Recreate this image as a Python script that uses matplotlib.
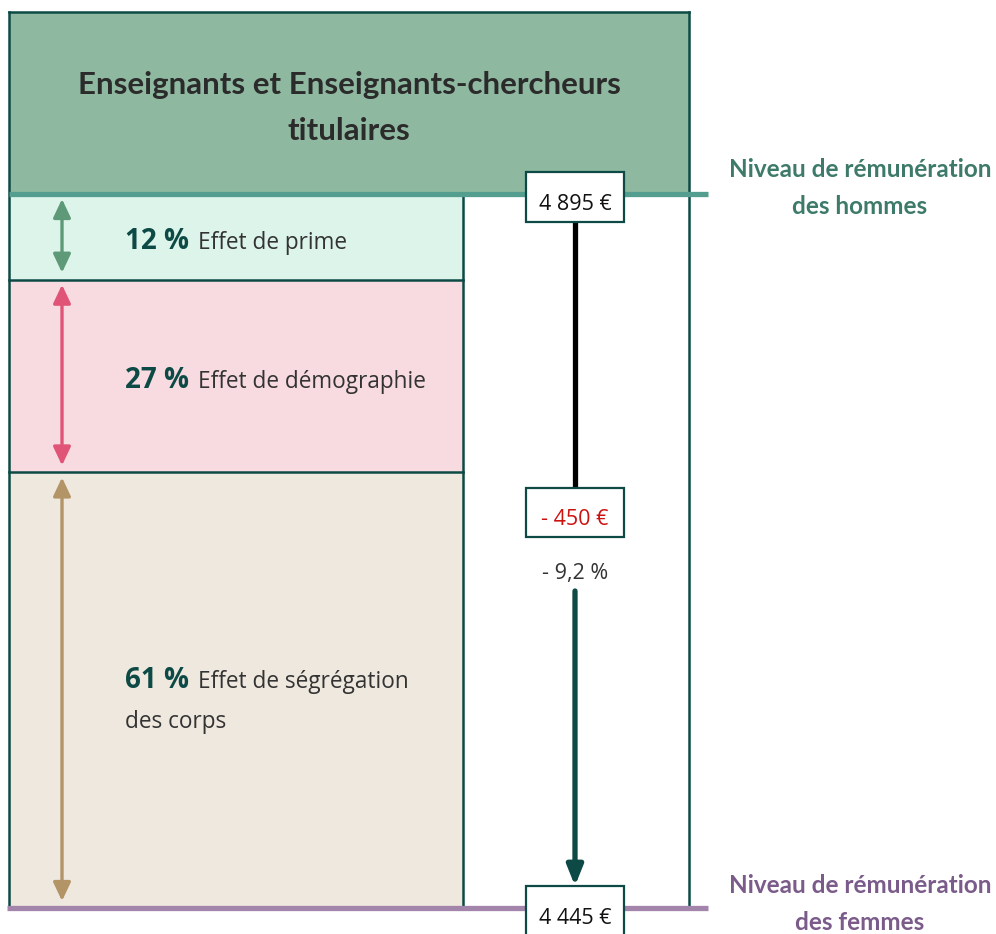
import matplotlib.pyplot as plt
from matplotlib.patches import Rectangle, FancyArrowPatch

# data
title = "Enseignants et Enseignants-chercheurs\ntitulaires"
effects = ["Effet de prime", "Effet de démographie", "Effet de ségrégation\ndes corps"]
shares = [12, 27, 61]          # % of the pay gap
men_pay = 4895
women_pay = 4445
gap_pct = -9.2

effect_fill = ["#dcf4ea", "#f7dbe1", "#efe8df"]
effect_arrow = ["#5e9a78", "#e05577", "#b39467"]
dark = "#0d4a45"

euro = lambda v: f"{v:,}".replace(",", " ") + " €"

# layout in pixels (axes = whole figure)
W, H = 996, 934
X0, X1, XS = 9, 689, 463     # outer box left/right, split between the two columns
TOP = 12
MEN_Y, WOMEN_Y = 194, 908
XC = 575                     # centre of the right column


def pay_to_y(v):
    return MEN_Y + (men_pay - v) / (men_pay - women_pay) * (WOMEN_Y - MEN_Y)


fig = plt.figure(figsize=(W / 100, H / 100), dpi=100)
ax = fig.add_axes([0, 0, 1, 1])
ax.set_xlim(0, W)
ax.set_ylim(H, 0)
ax.axis("off")

body = ["Open Sans", "DejaVu Sans"]
head = ["Lato", "DejaVu Sans"]

# header
ax.add_patch(Rectangle((X0, TOP), X1 - X0, MEN_Y - TOP, fc="#8fb8a0", ec="none", zorder=1))
ax.text((X0 + X1) / 2, 108, title, ha="center", va="center", fontsize=22.5,
        fontweight="bold", color="#2b2b2b", family=head, linespacing=1.75, zorder=5)

# effect segments, stacked from the men's level down
gap = men_pay - women_pay
edges = [men_pay]
for s in shares:
    edges.append(edges[-1] - gap * s / 100)
ys = [pay_to_y(v) for v in edges]

for i, (lab, s) in enumerate(zip(effects, shares)):
    y0, y1 = ys[i], ys[i + 1]
    ax.add_patch(Rectangle((X0, y0), XS - X0, y1 - y0, fc=effect_fill[i], ec="none", zorder=1))
    if i > 0:
        ax.plot([X0, XS], [y0, y0], color=dark, lw=1.8, zorder=3)
    ax.add_patch(FancyArrowPatch((62, y0 + 5), (62, y1 - 7),
                                 arrowstyle="<|-|>,head_length=0.7,head_width=0.33",
                                 mutation_scale=16, lw=2.4, color=effect_arrow[i],
                                 shrinkA=0, shrinkB=0, zorder=4))
    lines = lab.split("\n")
    yc = (y0 + y1) / 2 + (0 if len(lines) == 1 else -14)
    b = ax.text(125, yc + 12, f"{s} %", ha="left", va="baseline", fontsize=20,
                fontweight="bold", color=dark, family=body, zorder=5)
    fig.canvas.draw()
    bb = b.get_window_extent().transformed(ax.transData.inverted())
    ax.text(bb.x1 + 9, yc + 12, lines[0], ha="left", va="baseline", fontsize=16.3,
            color="#333333", family=body, zorder=5)
    if len(lines) > 1:
        ax.text(125, yc + 52, lines[1], ha="left", va="baseline", fontsize=16.3,
                color="#333333", family=body, zorder=5)

# box borders
ax.plot([X0, X0], [TOP, WOMEN_Y], color=dark, lw=1.8, zorder=3)
ax.plot([X1, X1], [TOP, WOMEN_Y], color=dark, lw=1.8, zorder=3)
ax.plot([X0, X1], [TOP, TOP], color=dark, lw=1.8, zorder=3)
ax.plot([XS, XS], [MEN_Y, WOMEN_Y], color=dark, lw=1.8, zorder=3)

# pay level lines
ax.plot([X0, 708], [MEN_Y, MEN_Y], color="#549e8f", lw=3.8, solid_capstyle="butt", zorder=4)
ax.plot([7, 708], [WOMEN_Y, WOMEN_Y], color="#a384ab", lw=3.8, solid_capstyle="butt", zorder=4)

ax.text(860, 188, "Niveau de rémunération\ndes hommes", ha="center", va="center",
        fontsize=17.5, fontweight="bold", color="#3e7a6a", family=head, linespacing=1.75)
ax.text(860, 904, "Niveau de rémunération\ndes femmes", ha="center", va="center",
        fontsize=17.5, fontweight="bold", color="#7a5b8a", family=head, linespacing=1.7)


def value_box(yc, txt, color="#111111", top=None, bottom=None):
    ax.add_patch(Rectangle((XC - 49, top), 98, bottom - top, fc="white", ec=dark, lw=1.6, zorder=6))
    ax.text(XC, yc, txt, ha="center", va="center", fontsize=15.5, color=color,
            family=body, zorder=7)


# gap between the two levels
gap_top, gap_bot = 488, 537
ax.plot([XC, XC], [pay_to_y(men_pay) + 28, gap_top], color="black", lw=3.8, zorder=5)
ax.add_patch(FancyArrowPatch((XC, 591), (XC, pay_to_y(women_pay) - 22),
                             arrowstyle="-|>,head_length=0.75,head_width=0.3",
                             mutation_scale=16, lw=3.8, color=dark,
                             shrinkA=0, shrinkB=0, zorder=5))

value_box(MEN_Y + 10, euro(men_pay), top=MEN_Y - 22, bottom=MEN_Y + 28)
value_box((gap_top + gap_bot) / 2 + 7, "- " + euro(gap), color="#cc1111", top=gap_top, bottom=gap_bot)
value_box(WOMEN_Y + 10, euro(women_pay), top=WOMEN_Y - 22, bottom=WOMEN_Y + 40)
ax.text(XC, 573, "- " + f"{abs(gap_pct):.1f}".replace(".", ",") + " %", ha="center",
        va="center", fontsize=15.5, color="#333333", family=body, zorder=5)

fig.savefig("out.png", dpi=100)
